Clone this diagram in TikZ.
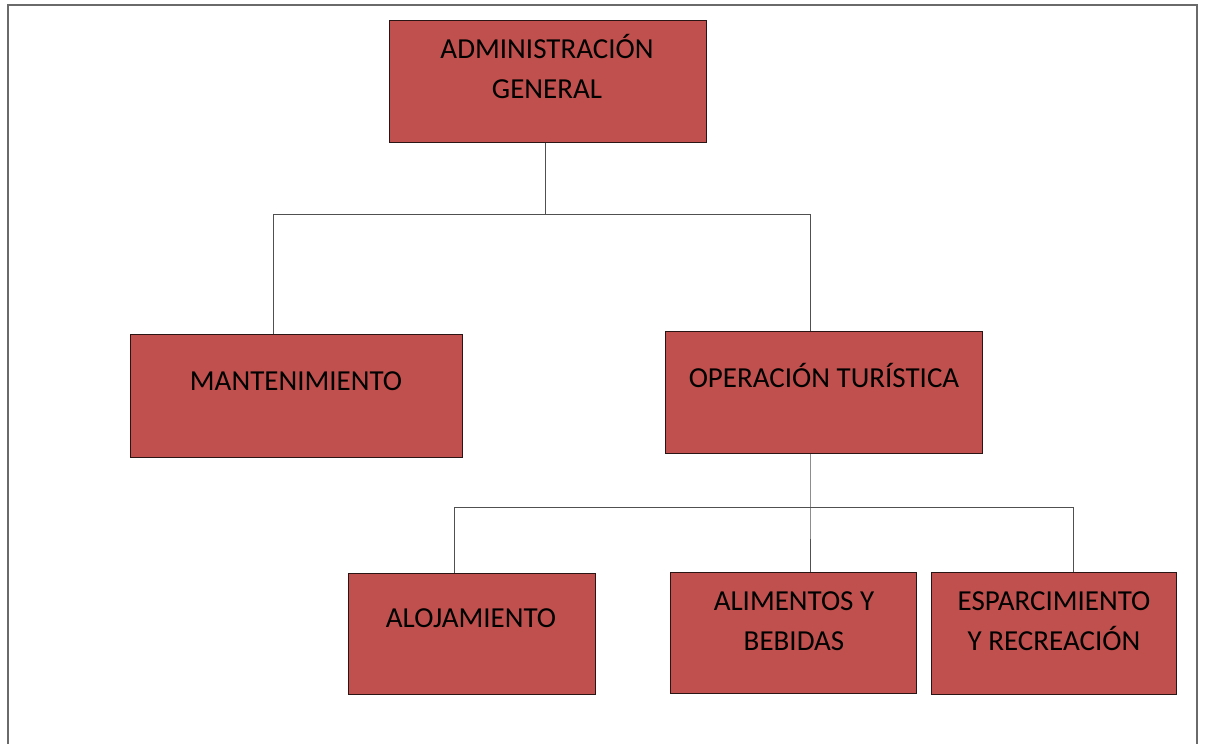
\documentclass[tikz,border=0pt]{standalone}
\usepackage{fontspec}
\setmainfont{Carlito}
\definecolor{boxred}{HTML}{C0504D}
\definecolor{boxedge}{HTML}{2B1414}
\definecolor{linegray}{HTML}{505050}
\definecolor{framegray}{HTML}{6A6A6A}
\begin{document}
\begin{tikzpicture}[x=1pt,y=-1pt,
  box/.style={draw=boxedge,fill=boxred,line width=1pt,inner sep=0pt,rectangle},
  lbl/.style={font=\fontsize{29}{40}\selectfont,text=black,align=center,inner sep=0pt,anchor=base},
  conn/.style={draw=linegray,line width=1pt}]
\useasboundingbox (0,0) rectangle (1205,744);
\draw[framegray,line width=1.5pt] (8,744) -- (8,5) -- (1197,5) -- (1197,744);
% boxes
\node[box,minimum width=317pt,minimum height=122pt] (b1) at (547.5,81) {};
\node[box,minimum width=332pt,minimum height=123pt] (b2) at (296,395.5) {};
\node[box,minimum width=317pt,minimum height=122pt] (b3) at (823.5,392) {};
\node[box,minimum width=247pt,minimum height=121pt] (b4) at (471.5,633.5) {};
\node[box,minimum width=246pt,minimum height=121pt] (b5) at (793,632.5) {};
\node[box,minimum width=245pt,minimum height=122pt] (b6) at (1053.5,633) {};
% labels (base anchor = baseline of last line)
\node[lbl] (t1) at (547,98) {ADMINISTRACIÓN\\GENERAL};
\node[lbl] (t2) at (296,390) {MANTENIMIENTO};
\node[lbl] (t3) at (824,387) {OPERACIÓN TURÍSTICA};
\node[lbl] (t4) at (471,627) {ALOJAMIENTO};
\node[lbl] (t5) at (794,650) {ALIMENTOS Y\\BEBIDAS};
\node[lbl] (t6) at (1054,650) {ESPARCIMIENTO\\Y RECREACIÓN};
% connectors
\coordinate (j1) at (545,214);
\coordinate (l1) at (273,214);
\coordinate (r1) at (810,214);
\draw[conn] (j1 |- b1.south) -- (j1);
\draw[conn] (l1 |- b2.north) -- (l1) -- (r1) -- (r1 |- b3.north);
\coordinate (j2) at (810,507);
\coordinate (l2) at (454,507);
\coordinate (r2) at (1073,507);
\draw[conn] (j2 |- b3.south) -- (j2) -- (j2 |- b5.north);
\draw[conn] (l2 |- b4.north) -- (l2) -- (r2) -- (r2 |- b6.north);
\end{tikzpicture}
\end{document}
